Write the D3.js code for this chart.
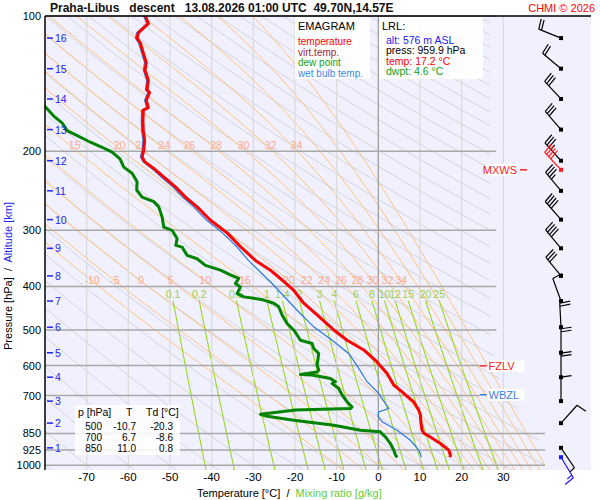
<!DOCTYPE html>
<html>
<head>
<meta charset="utf-8">
<script src="https://cdn.jsdelivr.net/npm/d3@7"></script>
<style>
  body { margin: 0; background: #fff; }
  text { font-family: Arial, "Liberation Sans", sans-serif; }
</style>
</head>
<body>
<svg id="chart" width="600" height="500"></svg>
<script>
// ---- sounding data ----
const tempP = [100, 104, 109, 112, 115, 121, 127, 132, 139, 146, 148, 154, 160, 162, 171, 180, 189, 199, 206, 211,
  220, 230, 240, 253, 266, 285, 304, 326, 350, 368, 387, 408, 436, 463, 500, 527, 554, 589, 625, 663, 687, 700,
  723, 754, 774, 801, 836, 850, 857, 895, 926, 950, 959.9];
const tempT = [-55.9, -55.2, -57.6, -57.9, -57.1, -56.4, -55.7, -56.0, -55.2, -55.5, -54.9, -55.7, -55.2, -56.4, -56.5, -56.4, -56.1, -56.3, -56.7, -56.1,
  -53.5, -51.1, -48.7, -46.3, -43.5, -40.3, -36.3, -33.1, -29.5, -25.9, -23.1, -20.3, -17.9, -14.7, -10.7, -7.5, -3.5, -0.3, 2.1, 3.7, 5.7, 6.7,
  8.5, 9.7, 10.1, 10.2, 10.5, 11.0, 11.7, 14.9, 16.9, 17.3, 17.2];

const dewP = [155, 159, 167, 173, 180, 183, 191, 196, 201, 208, 217, 224, 234, 244, 253, 259, 266, 280, 295, 300, 313, 324, 327, 341, 347,
  359, 368, 377, 384, 394, 401, 415, 422, 425, 429, 436, 444, 463, 484, 500, 513, 527, 536, 550, 564, 599, 614, 620, 628, 630, 641, 652, 658, 675,
  700, 723, 742, 748, 754, 770, 778, 794, 815, 836, 843, 850, 865, 895, 926, 953, 959.9];
const dewT = [-81.5, -80.0, -77.9, -75.9, -74.7, -73.1, -69.1, -66.3, -63.9, -62.0, -61.1, -59.1, -57.9, -58.0, -56.7, -53.9, -52.7, -51.9, -51.5, -49.5, -48.3, -48.6, -47.1, -45.9, -43.5,
  -41.5, -37.9, -35.5, -33.5, -34.3, -33.1, -33.9, -32.3, -29.9, -27.5, -25.1, -23.9, -23.1, -21.9, -20.3, -19.5, -18.7, -15.9, -15.5, -14.3, -14.7, -14.3, -14.7, -18.7, -15.9, -11.5, -10.3, -11.1, -9.5,
  -8.6, -7.5, -6.3, -6.7, -19.9, -28.3, -26.7, -20.3, -10.7, -4.3, 0.5, 0.8, 1.7, 2.9, 3.7, 4.2, 4.6];

const wbP = [100, 104, 109, 112, 115, 121, 127, 132, 139, 146, 148, 154, 160, 162, 171, 180, 189, 199, 206, 211,
  220, 230, 240, 253, 266, 285, 304, 326, 350, 394, 452, 492, 527, 545, 564,
  609, 652, 692, 729, 748, 761, 778, 801, 836, 880, 926, 950, 959.9];
const wbT = [-56.3, -55.6, -58.0, -58.3, -57.5, -56.8, -56.1, -56.4, -55.6, -55.9, -55.3, -56.1, -55.6, -56.8, -56.9, -56.8, -56.5, -56.7, -57.1, -56.5,
  -54.0, -51.7, -49.3, -47.0, -44.3, -41.2, -37.4, -34.0, -31.2, -25.5, -19.5, -15.5, -11.1, -9.1, -7.1,
  -4.7, -2.7, 0.1, 1.7, 2.5, 0.1, -0.1, 0.9, 4.5, 7.7, 9.7, 10.2, 10.3];

// ---- axes / grid values ----
const pressureTicks = [100, 200, 300, 400, 500, 600, 700, 850, 925, 1000];
const tempTicks = [-70, -60, -50, -40, -30, -20, -10, 0, 10, 20, 30];
const altKm = [1, 2, 3, 4, 5, 6, 7, 8, 9, 10, 11, 12, 13, 14, 15, 16];
const altP = [915, 806, 720, 637, 562, 493, 431, 379, 329, 284, 245, 210, 179, 153, 131, 112];

// ---- wind (at the km levels), direction deg, speed kt ----
const windDir = [146, 42, 0, 0, 0, 357, 340, 321, 320, 319, 320, 318, 319, 317, 310, 292];
const windSpd = [5, 10, 10, 20, 20, 20, 10, 30, 40, 40, 35, 35, 30, 30, 20, 20];
const mxwsP = 220, mxwsDir = 317, mxwsSpd = 40;
const sfcP = 959.9, sfcDir = 149, sfcSpd = 15;
const fzlvP = 601, wbzlP = 697;

// ---- thermodynamic reference lines ----
const moistThetas = [-10, -5, 0, 5, 10, 15, 20, 22, 24, 26, 28, 30, 32, 34, 36, 38, 40];
const moistLabelsLow = [-10, -5, 0, 5, 10, 15, 20, 22, 24, 26, 28, 30, 32, 34];
const moistLabelsHigh = [15, 20, 22, 24, 26, 28, 30, 32, 34];
const mixRatios = [0.1, 0.2, 0.5, 1, 1.4, 2, 3, 4, 6, 8, 10, 12, 15, 20, 25];
const dryThetas = d3.range(-80, 360, 10);

// ---- table ----
const tableP = [500, 700, 850];
const tableT = [-10.7, 6.7, 11.0];
const tableTd = [-20.3, -8.6, 0.8];

const svg = d3.select('#chart');
const pL = 45, pR = 545, pT = 16, pB = 470, panelR = 591;

const x = d3.scaleLinear().domain([-80, 40]).range([pL, pR]);
const y = d3.scaleLog().domain([1025, 100]).range([pB, pT]);

const defs = svg.append('defs');
defs.append('clipPath').attr('id', 'plotClip')
  .append('rect').attr('x', pL).attr('y', pT).attr('width', pR - pL).attr('height', pB - pT);
// background lines stop short on the upper right
defs.append('clipPath').attr('id', 'bgClip')
  .append('polygon').attr('points', [
    [pL, pT], [x(26.8), pT], [x(26.8), y(530)], [x(29.6), y(670)], [x(38.6), y(880)],
    [pR, y(960)], [pR, pB], [pL, pB]
  ].map(d => d.join(',')).join(' '));

// background panel
svg.append('rect').attr('x', pL).attr('y', pT)
  .attr('width', panelR - pL).attr('height', pB - pT)
  .attr('fill', '#f0f0fe');

const bg = svg.append('g').attr('clip-path', 'url(#bgClip)');

// vertical temperature lines
for (const t of tempTicks) {
  svg.append('line')
    .attr('x1', x(t)).attr('x2', x(t)).attr('y1', pT).attr('y2', pB)
    .attr('stroke', t === 0 ? '#a0a0a0' : '#dadada').attr('stroke-width', t === 0 ? 1.3 : 1.2);
}

// dry adiabats
const pSamples = d3.range(100, 1031, 10);
const line = d3.line().x(d => x(d[1])).y(d => y(d[0]));
for (const th of dryThetas) {
  const pts = pSamples.map(p => [p, (th + 273.15) * Math.pow(p / 1000, 0.2857) - 273.15]);
  bg.append('path').attr('d', line(pts))
    .attr('fill', 'none').attr('stroke', '#d4d4d8').attr('stroke-width', 1);
}

// pseudo-adiabats, integrated from 1000 hPa
function dTdp(p, T) {
  const es = 6.112 * Math.exp(17.67 * (T - 273.15) / (T - 29.65));
  const rs = 0.622 * es / (p - es);
  const Rd = 287.04, Lv = 2.501e6, cp = 1005.7;
  return (1 / p) * (Rd * T + Lv * rs) / (cp + (Lv * Lv * rs * 0.622) / (Rd * T * T));
}
function moistCurve(thw) {
  const out = [];
  const step = (p0, p1, T) => {
    const h = p1 - p0;
    const k1 = dTdp(p0, T), k2 = dTdp(p0 + h / 2, T + h / 2 * k1);
    const k3 = dTdp(p0 + h / 2, T + h / 2 * k2), k4 = dTdp(p1, T + h * k3);
    return T + h / 6 * (k1 + 2 * k2 + 2 * k3 + k4);
  };
  let T = thw + 273.15;
  out.push([1000, T - 273.15]);
  for (let p = 1000; p > 100; p -= 5) { T = step(p, p - 5, T); out.unshift([p - 5, T - 273.15]); }
  T = thw + 273.15;
  for (let p = 1000; p < 1030; p += 5) { T = step(p, p + 5, T); out.push([p + 5, T - 273.15]); }
  return out;
}
const moistLines = new Map();
for (const th of moistThetas) {
  const pts = moistCurve(th);
  moistLines.set(th, pts);
  bg.append('path').attr('d', line(pts))
    .attr('fill', 'none').attr('stroke', '#ffc27a').attr('stroke-width', 1);
}
function tempAt(pts, p) {
  const i = d3.bisector(d => d[0]).left(pts, p);
  const a = pts[Math.max(0, i - 1)], b = pts[Math.min(pts.length - 1, i)];
  if (a[0] === b[0]) return a[1];
  return a[1] + (b[1] - a[1]) * (p - a[0]) / (b[0] - a[0]);
}

// mixing ratio lines
function dewFromMix(w, p) {
  const e = w * p / (622 + w);
  const l = Math.log(e / 6.112);
  return 243.5 * l / (17.67 - l);
}
const mixP = d3.range(430, 1031, 10);
for (const w of mixRatios) {
  bg.append('path').attr('d', line(mixP.map(p => [p, dewFromMix(w, p)])))
    .attr('fill', 'none').attr('stroke', '#9ad820').attr('stroke-width', 1.1);
}

// horizontal pressure lines
for (const p of pressureTicks) {
  let x2 = x(28.3);
  if (p >= 850) x2 = pR;
  else if (p === 600 || p === 700) x2 = x(24.4);
  svg.append('line').attr('x1', pL).attr('x2', x2).attr('y1', y(p)).attr('y2', y(p))
    .attr('stroke', '#a8a8a8').attr('stroke-width', 1.5);
}

// labels for moist adiabats and mixing ratio lines
const labels = svg.append('g').style('font-size', '10.5px');
for (const th of moistLabelsLow) {
  const py = 280, p = y.invert(py);
  labels.append('text').attr('x', x(tempAt(moistLines.get(th), p)) + 1).attr('y', py + 4)
    .attr('text-anchor', 'middle').attr('fill', '#fdaa8a').text(th);
}
for (const th of moistLabelsHigh) {
  const py = 145, p = y.invert(py);
  labels.append('text').attr('x', x(tempAt(moistLines.get(th), p)) + 5).attr('y', py + 4)
    .attr('text-anchor', 'middle').attr('fill', '#fdaa8a').text(th);
}
for (const w of mixRatios) {
  labels.append('text').attr('x', x(dewFromMix(w, 430))).attr('y', 298)
    .attr('text-anchor', 'middle').attr('fill', '#9fce46').text(w);
}

// ---- profiles ----
const prof = svg.append('g').attr('clip-path', 'url(#plotClip)');
const zip = (P, T) => P.map((p, i) => [p, T[i]]);
prof.append('path').attr('d', line(zip(dewP, dewT)))
  .attr('fill', 'none').attr('stroke', '#008400').attr('stroke-width', 3).attr('stroke-linejoin', 'round');
prof.append('path').attr('d', line(zip(wbP, wbT)))
  .attr('fill', 'none').attr('stroke', '#2a78e0').attr('stroke-width', 1.2);
prof.append('path').attr('d', line(zip(tempP, tempT)))
  .attr('fill', 'none').attr('stroke', '#ff0000').attr('stroke-width', 3).attr('stroke-linejoin', 'round');

// ---- frame ----
svg.append('line').attr('x1', pL).attr('x2', panelR).attr('y1', pT).attr('y2', pT)
  .attr('stroke', '#000').attr('stroke-width', 1.5);
svg.append('line').attr('x1', pL).attr('x2', pL).attr('y1', pT).attr('y2', pB)
  .attr('stroke', '#000').attr('stroke-width', 1.5);

// pressure labels
for (const p of pressureTicks) {
  svg.append('text').attr('x', 41).attr('y', y(p) + 4).attr('text-anchor', 'end')
    .style('font-size', '11px').attr('fill', '#000').text(p);
}
// temperature labels
for (const t of tempTicks) {
  svg.append('text').attr('x', x(t)).attr('y', 481).attr('text-anchor', 'middle')
    .style('font-size', '11.5px').attr('fill', '#000').text(t);
}
// altitude labels
altKm.forEach((km, i) => {
  const yy = y(altP[i]);
  svg.append('line').attr('x1', 47).attr('x2', 53).attr('y1', yy).attr('y2', yy)
    .attr('stroke', '#2424f0').attr('stroke-width', 1.5);
  svg.append('text').attr('x', 55).attr('y', yy + 4).style('font-size', '10.5px')
    .attr('fill', '#2424f0').text(km);
});

// axis titles
const yt = svg.append('text').attr('transform', 'translate(12,276) rotate(-90)')
  .attr('text-anchor', 'middle').style('font-size', '11px').attr('xml:space', 'preserve');
yt.append('tspan').attr('fill', '#000').text('Pressure [hPa]  /  ');
yt.append('tspan').attr('fill', '#2424f0').text('Altitude [km]');
const xt = svg.append('text').attr('x', 197).attr('y', 497).style('font-size', '11px')
  .attr('xml:space', 'preserve');
xt.append('tspan').attr('fill', '#000').text('Temperature [°C]  /  ');
xt.append('tspan').attr('fill', '#66cc33').text('Mixing ratio [g/kg]');

// title
svg.append('text').attr('x', 50).attr('y', 12).attr('xml:space', 'preserve')
  .style('font-size', '12px').style('font-weight', 'bold').attr('fill', '#111')
  .text('Praha-Libus   descent   13.08.2026 01:00 UTC  49.70N,14.57E');
svg.append('text').attr('x', 595).attr('y', 12).attr('text-anchor', 'end')
  .style('font-size', '11px').attr('fill', '#ff0000').text('CHMI © 2026');

// legend box
svg.append('rect').attr('x', 295).attr('y', 17).attr('width', 75).attr('height', 62).attr('fill', '#fff').attr('opacity', 0.92);
svg.append('text').attr('x', 298).attr('y', 30).style('font-size', '11px').attr('fill', '#000').text('EMAGRAM');
const legendItems = [['temperature', '#ff0000'], ['virt.temp.', '#a02828'], ['dew point', '#14a014'], ['wet bulb temp.', '#3a8ae8']];
legendItems.forEach((d, i) => {
  svg.append('text').attr('x', 298).attr('y', 45 + i * 10.5).style('font-size', '10px').attr('fill', d[1]).text(d[0]);
});

// LRL box
svg.append('rect').attr('x', 379).attr('y', 17).attr('width', 104).attr('height', 62).attr('fill', '#fff').attr('opacity', 0.92);
svg.append('text').attr('x', 382).attr('y', 30).style('font-size', '11px').attr('fill', '#000').text('LRL:');
const lrlItems = [['alt: 576 m ASL', '#2020f0'], ['press: 959.9 hPa', '#000'], ['temp: 17.2 °C', '#ff0000'], ['dwpt: 4.6 °C', '#14a014']];
lrlItems.forEach((d, i) => {
  svg.append('text').attr('x', 386).attr('y', 43.5 + i * 10.5).style('font-size', '10.5px').attr('fill', d[1]).text(d[0]);
});

// table
svg.append('rect').attr('x', 75).attr('y', 405).attr('width', 105).attr('height', 50).attr('fill', '#fff').attr('opacity', 0.85);
const tb = svg.append('g').style('font-size', '10px').attr('fill', '#000');
tb.append('text').attr('x', 78).attr('y', 416).style('font-size', '10.5px').text('p [hPa]');
tb.append('text').attr('x', 126).attr('y', 416).style('font-size', '10.5px').text('T');
tb.append('text').attr('x', 146).attr('y', 416).style('font-size', '10.5px').text('Td [°C]');
tableP.forEach((p, i) => {
  const yy = 430 + i * 11;
  tb.append('text').attr('x', 102).attr('y', yy).attr('text-anchor', 'end').text(p);
  tb.append('text').attr('x', 136).attr('y', yy).attr('text-anchor', 'end').text(tableT[i].toFixed(1));
  tb.append('text').attr('x', 173).attr('y', yy).attr('text-anchor', 'end').text(tableTd[i].toFixed(1));
});

// level markers
function levelLabel(p, text, color, side) {
  const yy = y(p);
  const g = svg.append('g');
  if (side === 'right') {
    g.append('rect').attr('x', x(26.2)).attr('y', yy - 6).attr('width', 37).attr('height', 12).attr('fill', '#fff');
    g.append('line').attr('x1', x(24.4)).attr('x2', x(26.0)).attr('y1', yy).attr('y2', yy).attr('stroke', color).attr('stroke-width', 1.5);
    g.append('text').attr('x', x(26.2) + 1).attr('y', yy + 4).style('font-size', '11px').attr('fill', color).text(text);
  } else {
    g.append('rect').attr('x', 486).attr('y', yy - 6).attr('width', 32).attr('height', 12).attr('fill', '#fff');
    g.append('text').attr('x', 517).attr('y', yy + 4).attr('text-anchor', 'end').style('font-size', '11px').attr('fill', color).text(text);
    g.append('line').attr('x1', 520).attr('x2', 527).attr('y1', yy).attr('y2', yy).attr('stroke', color).attr('stroke-width', 1.5);
  }
}
levelLabel(fzlvP, 'FZLV', '#ff2020', 'right');
levelLabel(wbzlP, 'WBZL', '#3a7ee0', 'right');
levelLabel(mxwsP, 'MXWS', '#ff2020', 'left');

// ---- wind barbs ----
const windX = 561;
function barb(p, dir, spd, color) {
  const sx = windX, sy = y(p);
  const a = dir * Math.PI / 180;
  const ux = Math.sin(a), uy = -Math.cos(a);
  const L = 24;
  const tx = sx + ux * L, ty = sy + uy * L;
  const px = -uy, py = ux;
  const g = svg.append('g').attr('stroke', color).attr('stroke-width', 1.2).attr('fill', 'none');
  g.append('line').attr('x1', sx).attr('y1', sy).attr('x2', tx).attr('y2', ty);
  let rem = Math.round(spd / 5) * 5, pos = 0;
  while (rem >= 10) {
    const bx = tx - ux * pos, by = ty - uy * pos;
    g.append('line').attr('x1', bx).attr('y1', by)
      .attr('x2', bx + px * 10.5 + ux * 1.5).attr('y2', by + py * 10.5 + uy * 1.5);
    pos += 3; rem -= 10;
  }
  if (rem >= 5) {
    const bx = tx - ux * pos, by = ty - uy * pos;
    g.append('line').attr('x1', bx).attr('y1', by)
      .attr('x2', bx + px * 6 + ux * 1).attr('y2', by + py * 6 + uy * 1);
  }
  svg.append('rect').attr('x', sx - 2).attr('y', sy - 2).attr('width', 4).attr('height', 4).attr('fill', color);
}
altKm.forEach((km, i) => barb(altP[i], windDir[i], windSpd[i], '#000'));
barb(mxwsP, mxwsDir, mxwsSpd, '#ff1a1a');
barb(sfcP, sfcDir, sfcSpd, '#1a1aff');
</script>
</body>
</html>
